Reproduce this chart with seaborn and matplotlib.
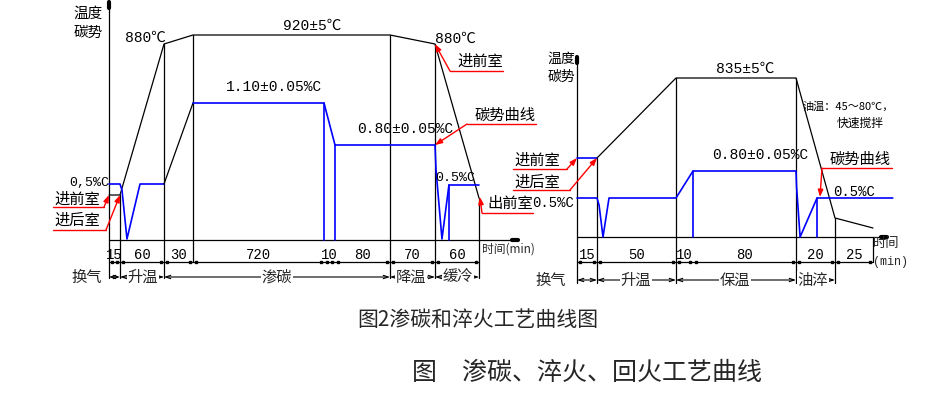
import numpy as np
import matplotlib
matplotlib.use("Agg")
import matplotlib.pyplot as plt
import seaborn as sns

sns.set_theme(style="white")
plt.rcParams['font.family'] = ['Noto Sans CJK SC', 'DejaVu Sans']
MONO = ['Liberation Mono', 'Noto Sans CJK SC']
BLUE, RED, BLK = '#0000ff', '#ff0000', 'black'

# ---------------- 左图：渗碳工艺 ----------------
L_seg_min = [15, 60, 30, 720, 10, 80, 70, 60]
L_phase = ['换气', '升温', '渗碳', '降温', '缓冷']
L_phase_seg = [(0, 1), (1, 2), (2, 6), (6, 7), (7, 8)]
# 温度曲线 (时间min, 示意高度)
L_temp_t = [0, 15, 75, 105, 915, 985, 1045]
L_temp_h = [45, 45, 196, 205, 205, 196, 42]
# 碳势曲线
L_c1_t = [0, 15, 17.7, 24.5, 42.3, 75]
L_c1_h = [56, 56, 50, 1, 56, 56]
L_ramp_t = [75, 105]
L_ramp_h = [56, 137]
L_c2_t = [105, 825, 835, 985, 986.4, 994.5, 1004, 1045]
L_c2_h = [137, 137, 95, 95, 70, 1, 55, 55]
L_drop_t = [825, 835, 1004]
L_drop_h = [137, 95, 55]

# ---------------- 右图：淬火工艺 ----------------
R_seg_min = [15, 50, 10, 80, 20, 25]
R_phase = ['换气', '升温', '保温', '油淬']
R_phase_seg = [(0, 1), (1, 2), (2, 4), (4, 5)]
R_pre_t = [0, 15]
R_pre_h = [79, 79]
R_temp_t = [15, 65, 155, 175, 200]
R_temp_h = [79, 159, 159, 19, 9]
R_c_t = [0, 15, 16.3, 18.8, 22.6, 65, 75, 155, 155.3, 157.1, 165.8, 213]
R_c_h = [39, 39, 32, 0, 39, 39, 66, 66, 50, 0, 39, 39]
R_drop_t = [75, 165.8]
R_drop_h = [66, 39]

# 示意图布局（非比例时间轴）
L_seg_w = [11, 44, 29, 131, 11, 55, 45, 44]
L_x0, L_base = 109, 240
R_seg_w = [20, 79, 17, 103, 39, 38]
R_x0, R_base = 577, 237
DIM_Y = 262


def make_scale(seg_min, seg_w, x0):
    cum_t = np.concatenate([[0], np.cumsum(seg_min)])
    cum_x = x0 + np.concatenate([[0], np.cumsum(seg_w)])
    slope = seg_w[-1] / seg_min[-1]

    def f(t):
        t = np.asarray(t, float)
        x = np.interp(t, cum_t, cum_x)
        return np.where(t > cum_t[-1], cum_x[-1] + (t - cum_t[-1]) * slope, x)
    return f, cum_t, cum_x


fig = plt.figure(figsize=(9.5, 3.97), dpi=100)
ax = fig.add_axes([0, 0, 1, 1])


def curve(fx, base, t, h, color, lw):
    sns.lineplot(x=fx(t), y=base - np.asarray(h, float), sort=False,
                 estimator=None, color=color, lw=lw, ax=ax, legend=False)


def red_leader(pts, target):
    xs, ys = zip(*pts)
    ax.plot(xs, ys, color=RED, lw=1.0)
    ax.annotate('', xy=target, xytext=pts[-1],
                arrowprops=dict(arrowstyle='-|>,head_length=0.35,head_width=0.13',
                                color=RED, lw=1.0, shrinkA=0, shrinkB=0))


def frame(fx, cum_t, cum_x, base, top_y, ax_end, major, minor, phase_bot,
          seg_min, phases, phase_seg, phase_x, phase_y, temp_t, temp_h):
    # 纵轴
    ax.plot([cum_x[0], cum_x[0]], [top_y, phase_bot], color=BLK, lw=0.9)
    ax.plot([cum_x[0], cum_x[0]], [top_y - 1, top_y + 5], color=BLK, lw=3)
    # 时间轴
    ax.plot([cum_x[0], ax_end], [base, base], color=BLK, lw=0.9)
    ax.plot([ax_end - 6, ax_end], [base, base], color=BLK, lw=3)
    # 分隔线
    for i in major + minor:
        y_top = base - np.interp(cum_t[i], temp_t, temp_h)
        ax.plot([cum_x[i], cum_x[i]], [y_top, phase_bot if i in major else DIM_Y],
                color=BLK, lw=0.9)
    # 尺寸线
    ax.plot([cum_x[0], cum_x[-1]], [DIM_Y, DIM_Y], color=BLK, lw=0.9)
    for i, m in enumerate(seg_min):
        a, b = cum_x[i], cum_x[i + 1]
        ax.plot([a + 3, b - 3], [DIM_Y, DIM_Y], 's', color=BLK, ms=1.8)
        ax.text((a + b) / 2, DIM_Y - 7, str(m), family=MONO, fontsize=10,
                ha='center', va='center', color=BLK)
    # 工序
    for name, (i, j), px in zip(phases, phase_seg, phase_x):
        ax.annotate('', xy=(cum_x[j], phase_y), xytext=(cum_x[i], phase_y),
                    arrowprops=dict(arrowstyle='<->,head_length=0.3,head_width=0.1',
                                    color=BLK, lw=0.8, shrinkA=0, shrinkB=0))
        ax.text(px, phase_y, name, fontsize=11, ha='center', va='center',
                bbox=dict(facecolor='white', edgecolor='none', pad=0.5))


# ---------------- 左图绘制 ----------------
fL, L_cum_t, L_cum_x = make_scale(L_seg_min, L_seg_w, L_x0)
frame(fL, L_cum_t, L_cum_x, L_base, 3, 518, [1, 2, 6, 7, 8], [3], 278,
      L_seg_min, L_phase, L_phase_seg, [87, 143, 277, 411, 458], 277,
      L_temp_t, L_temp_h)
curve(fL, L_base, L_temp_t, L_temp_h, BLK, 0.9)
curve(fL, L_base, L_c1_t, L_c1_h, BLUE, 1.2)
curve(fL, L_base, L_ramp_t, L_ramp_h, BLK, 0.9)
curve(fL, L_base, L_c2_t, L_c2_h, BLUE, 1.2)
for t, h in zip(L_drop_t, L_drop_h):
    curve(fL, L_base, [t, t], [h, 0], BLUE, 1.2)

# ---------------- 右图绘制 ----------------
fR, R_cum_t, R_cum_x = make_scale(R_seg_min, R_seg_w, R_x0)
R_all_t = R_pre_t + R_temp_t + [200]
R_all_h = R_pre_h + R_temp_h + [0]
frame(fR, R_cum_t, R_cum_x, R_base, 58, 887, [1, 2, 4, 5], [6], 283,
      R_seg_min, R_phase, R_phase_seg, [551, 636, 735, 813], 280,
      R_all_t, R_all_h)
curve(fR, R_base, R_pre_t, R_pre_h, BLUE, 1.2)
curve(fR, R_base, R_temp_t, R_temp_h, BLK, 0.9)
curve(fR, R_base, R_c_t, R_c_h, BLUE, 1.2)
for t, h in zip(R_drop_t, R_drop_h):
    curve(fR, R_base, [t, t], [h, 0], BLUE, 1.2)


def pt(fx, base, t, ts, hs):
    return (float(fx(t)), base - float(np.interp(t, ts, hs)))


# 红色引出线
red_leader([(53, 207), (104, 207)], pt(fL, L_base, 0, L_temp_t, L_temp_h))
red_leader([(53, 230), (106, 230)], pt(fL, L_base, 15, L_temp_t, L_temp_h))
red_leader([(503, 71), (450, 71)], pt(fL, L_base, 985, L_temp_t, L_temp_h))
red_leader([(536, 124), (467, 124)], pt(fL, L_base, 985, L_c2_t, L_c2_h))
red_leader([(533, 213), (482, 213)], (480, 197))
red_leader([(513, 169), (567, 169)], pt(fR, R_base, 0, R_pre_t, R_pre_h))
red_leader([(513, 190), (570, 190)], pt(fR, R_base, 15, R_pre_t, R_pre_h))
red_leader([(892, 168), (822, 168)], (820, 197))

# 文字
texts = [
    (88, 14, '温度', 10.5, None), (88, 33, '碳势', 10.5, None),
    (145, 38, '880℃', 10.5, MONO), (312, 26, '920±5℃', 10.5, MONO),
    (455, 39, '880℃', 10.5, MONO), (274, 87, '1.10±0.05%C', 10.5, MONO),
    (405, 129, '0.80±0.05%C', 10.5, MONO), (89, 183, '0,5%C', 9.5, MONO),
    (455, 178, '0.5%C', 9.5, MONO), (480, 61, '进前室', 11, None),
    (505, 115, '碳势曲线', 11, None), (77, 199, '进前室', 11, None),
    (77, 220, '进后室', 11, None), (510, 203, '出前室', 11, None),
    (561, 59, '温度', 10, None), (561, 77, '碳势', 10, None),
    (745, 69, '835±5℃', 10.5, MONO), (760, 155, '0.80±0.05%C', 10.5, MONO),
    (848, 107, '油温：45～80℃，', 8, None), (860, 123, '快速搅拌', 8.5, None),
    (860, 159, '碳势曲线', 11, None), (854, 192, '0.5%C', 10, MONO),
    (537, 160, '进前室', 11, None), (537, 182, '进后室', 11, None),
    (553, 203, '0.5%C', 10, MONO),
]
for x, y, s, fs, fam in texts:
    kw = {'family': fam} if fam else {}
    ax.text(x, y, s, fontsize=fs, ha='center', va='center', color=BLK, **kw)
ax.text(482, 249, '时间(min)', fontsize=8.5, ha='left', va='center')
ax.text(873, 244, '时间', fontsize=9.5, ha='left', va='center')
ax.text(873, 262, '(min)', fontsize=8.5, ha='left', va='center', family=MONO)

ax.text(478, 320, '图2渗碳和淬火工艺曲线图', fontsize=15, ha='center', va='center')
ax.text(587, 373, '图　渗碳、淬火、回火工艺曲线', fontsize=18, ha='center', va='center')

ax.set_xlim(0, 950)
ax.set_ylim(397, 0)
ax.axis('off')
fig.savefig('out.png', dpi=100, facecolor='white')
